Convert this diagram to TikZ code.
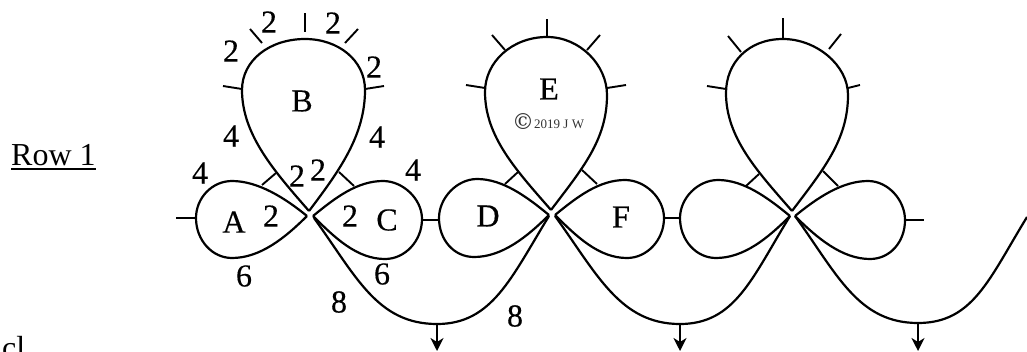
\documentclass[tikz,border=0pt]{standalone}
\usepackage{fontspec}
\setmainfont{Liberation Serif}
\newfontfamily\heavyserif{Liberation Serif}[FakeBold=0.25]
\newfontfamily\heavierserif{Liberation Serif}[FakeBold=0.7]
\usetikzlibrary{arrows.meta}
\tikzset{
  lace/.style={line width=2.2pt,line join=round},
  tick/.style={line width=1.9pt},
  drop/.style={-{Stealth[length=13pt,width=13pt,inset=4pt]},line width=1.9pt},
  lab/.style={inner sep=0pt,font=\fontsize{32}{32}\selectfont\heavyserif},
  letterb/.style={inner sep=0pt,font=\fontsize{32}{32}\selectfont\heavierserif},
}
\newcommand{\topring}[4]{\draw[lace] (#1) .. controls +(-34,-39) and +(0,45) .. (#2) .. controls +(0,-30) and +(-35,0) .. (#3) .. controls +(33,0) and +(0,-30) .. (#4) .. controls +(0,45) and +(31,-41) .. (#1);}
\newcommand{\leftring}[4]{\draw[lace] (#1) .. controls +(-22,-18) and +(26,0) .. (#2) .. controls +(-20,0) and +(0,-20) .. (#3) .. controls +(0,22) and +(-20,0) .. (#4) .. controls +(28,0) and +(-22,22) .. (#1);}
\newcommand{\rightring}[4]{\draw[lace] (#1) .. controls +(22,-18) and +(-26,0) .. (#2) .. controls +(20,0) and +(0,-20) .. (#3) .. controls +(0,22) and +(20,0) .. (#4) .. controls +(-28,0) and +(22,22) .. (#1);}
\newcommand{\chainarc}[3]{\draw[lace] (#1) .. controls +(42,58) and +(-60,0) .. (#2) .. controls +(55,0) and +(-38,62) .. (#3);}
\newcommand{\picot}[2]{\coordinate (p1) at (#1);\coordinate (p2) at (#2);\draw[tick] (p1) -- (p2);}
\begin{document}
\begin{tikzpicture}[x=1pt,y=-1pt]
\useasboundingbox (0,0) rectangle (1027,351);
\clip (0,0) rectangle (1027,351);
% coordinates of the rings
\coordinate (b-t) at (309,211); \coordinate (b-l) at (242,90); \coordinate (b-n) at (305,39); \coordinate (b-r) at (365,90);
\coordinate (a-t) at (307,216); \coordinate (a-n) at (232,181); \coordinate (a-l) at (196,218); \coordinate (a-s) at (232,258);
\coordinate (c-t) at (313,216); \coordinate (c-n) at (383,181); \coordinate (c-r) at (422,219); \coordinate (c-s) at (385,259);
\coordinate (e-t) at (551,210); \coordinate (e-l) at (485,92); \coordinate (e-n) at (547,37); \coordinate (e-r) at (607,95);
\coordinate (d-t) at (549,215); \coordinate (d-n) at (477,179); \coordinate (d-l) at (439,218); \coordinate (d-s) at (474,257);
\coordinate (f-t) at (555,215); \coordinate (f-n) at (625,180); \coordinate (f-r) at (664,218); \coordinate (f-s) at (627,258);
\coordinate (h-t) at (792,211); \coordinate (h-l) at (726,93); \coordinate (h-n) at (783,39); \coordinate (h-r) at (848,95);
\coordinate (g-t) at (790,216); \coordinate (g-n) at (718,180); \coordinate (g-l) at (680,218); \coordinate (g-s) at (716,258);
\coordinate (i-t) at (795,216); \coordinate (i-n) at (868,181); \coordinate (i-r) at (905,220); \coordinate (i-s) at (870,259);
\topring{b-t}{b-l}{b-n}{b-r}
\leftring{a-t}{a-n}{a-l}{a-s}
\rightring{c-t}{c-n}{c-r}{c-s}
\topring{e-t}{e-l}{e-n}{e-r}
\leftring{d-t}{d-n}{d-l}{d-s}
\rightring{f-t}{f-n}{f-r}{f-s}
\topring{h-t}{h-l}{h-n}{h-r}
\leftring{g-t}{g-n}{g-l}{g-s}
\rightring{i-t}{i-n}{i-r}{i-s}
% chains
\coordinate (s1) at (314,218); \coordinate (m1) at (437,324); \coordinate (e1) at (549,216);
\coordinate (s2) at (555,216); \coordinate (m2) at (680,324); \coordinate (e2) at (790,216);
\coordinate (s3) at (795,216); \coordinate (m3) at (918,323); \coordinate (e3) at (1027,217);
\chainarc{s1}{m1}{e1}
\chainarc{s2}{m2}{e2}
\chainarc{s3}{m3}{e3}
\coordinate (ad1) at (437,351); \coordinate (ad2) at (680,351); \coordinate (ad3) at (918,351);
\draw[drop] (m1) -- (ad1);
\draw[drop] (m2) -- (ad2);
\draw[drop] (m3) -- (ad3);
% picots
\picot{305,13}{305,32}\picot{250,29}{262,43}\picot{358,29}{345,43}\picot{223,86}{242,89}\picot{384,86}{365,89}
\picot{276,173}{262,185}\picot{339,172}{354,186}
\picot{176,218}{196,218}
\picot{422,220}{439,220}
\picot{547,19}{547,37}\picot{492,35}{505,50}\picot{600,35}{587,50}\picot{466,85}{485,88}\picot{626,85}{607,88}
\picot{518,172}{505,184}\picot{582,170}{597,184}
\picot{664,218}{680,218}
\picot{783,18}{783,38}\picot{728,36}{741,52}\picot{841,34}{829,49}\picot{707,86}{726,89}\picot{860,85}{848,88}
\picot{759,174}{746,186}\picot{823,171}{838,186}
\picot{905,220}{924,220}
% labels
\node[lab] (n1) at (269,22) {2};
\node[lab] (n2) at (333,23) {2};
\node[lab] (n3) at (231,51) {2};
\node[lab] (n4) at (374,67) {2};
\node[lab] (lB) at (302,101) {B};
\node[lab] (n5) at (231,136) {4};
\node[lab] (n6) at (377,137) {4};
\node[lab] (n7) at (200,173) {4};
\node[lab] (n8) at (413,170) {4};
\node[lab] (n9) at (297,176) {2};
\node[lab] (n10) at (318,170) {2};
\node[lab] (lA) at (234,222) {A};
\node[lab] (n11) at (271,216) {2};
\node[lab] (n12) at (350,216) {2};
\node[lab] (lC) at (387,220) {C};
\node[lab] (n13) at (244,276) {6};
\node[lab] (n14) at (382,274) {6};
\node[lab] (n15) at (339,302) {8};
\node[lab] (n16) at (515,316) {8};
\node[letterb] (lD) at (488,216) {D};
\node[letterb] (lE) at (549,89) {E};
\node[letterb] (lF) at (621,217) {F};
\node[inner sep=0pt,anchor=base west,text=black!80] (copy) at (512,128) {\raisebox{-1pt}{\fontspec{DejaVu Serif}\fontsize{22}{22}\selectfont ©}\fontsize{13}{13}\selectfont 2019 J W};
\node[inner sep=0pt,anchor=base west,font=\fontsize{32}{32}\selectfont] (row) at (11,165) {Row 1};
\coordinate (u1) at (11,169); \coordinate (u2) at (96,169);
\draw[line width=2pt] (u1) -- (u2);
\node[inner sep=0pt,anchor=base west,font=\fontsize{32}{32}\selectfont] (cl) at (2,358) {cl};
\end{tikzpicture}
\end{document}
